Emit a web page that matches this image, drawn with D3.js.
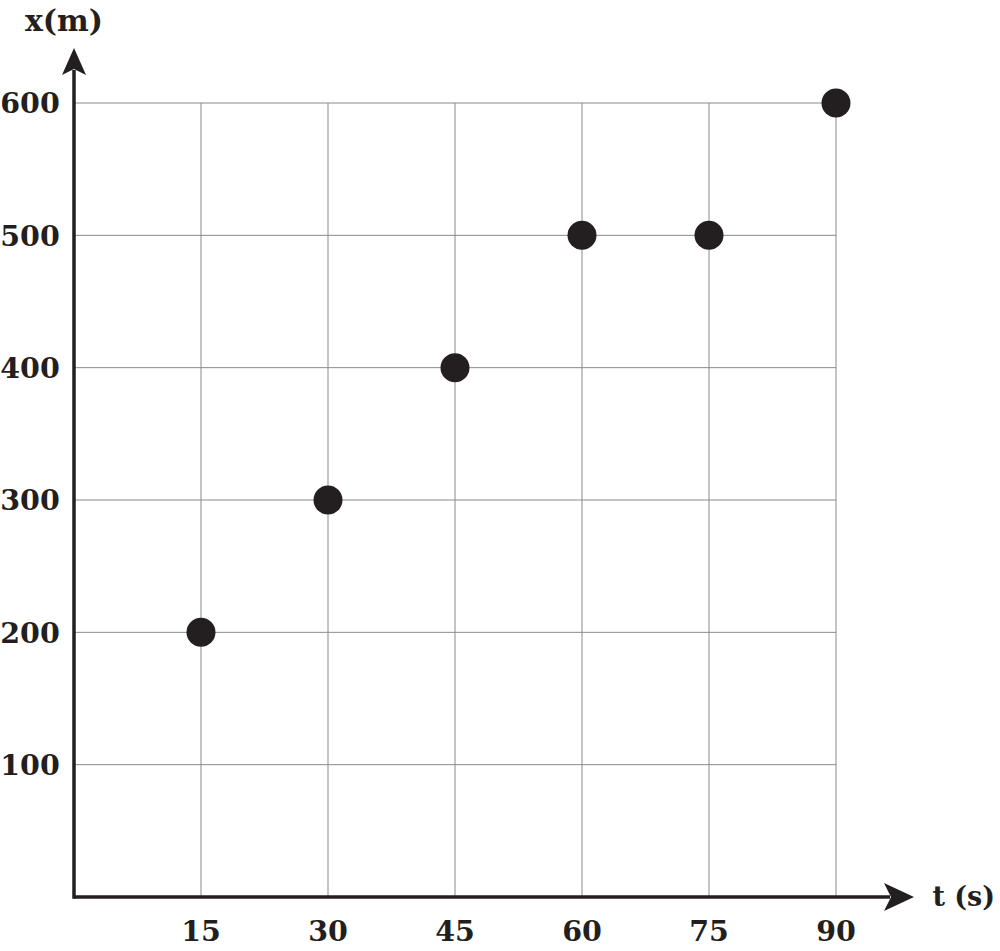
<!DOCTYPE html>
<html><head><meta charset="utf-8">
<script src="https://cdn.jsdelivr.net/npm/d3@7"></script>
<style>body{margin:0;background:#fff}svg{display:block}</style>
</head><body>
<script>
const times = [15, 30, 45, 60, 75, 90];
const positions = [200, 300, 400, 500, 500, 600];
const xTicks = [15, 30, 45, 60, 75, 90];
const yTicks = [100, 200, 300, 400, 500, 600];

const W = 1000, H = 951;
const svg = d3.select("body").append("svg").attr("width", W).attr("height", H);
const x = d3.scaleLinear().domain([0, 90]).range([74, 836]);
const y = d3.scaleLinear().domain([0, 600]).range([897, 103]);
const font = "'DejaVu Serif', serif";
const ink = "#231f20";

// grid
svg.append("g").selectAll("line").data(yTicks).join("line")
  .attr("x1", x(0)).attr("x2", x(90)).attr("y1", d => y(d)).attr("y2", d => y(d))
  .attr("stroke", "#8a8a8a").attr("stroke-width", 1);
svg.append("g").selectAll("line").data(xTicks).join("line")
  .attr("x1", d => x(d)).attr("x2", d => x(d)).attr("y1", y(0)).attr("y2", y(600))
  .attr("stroke", "#8a8a8a").attr("stroke-width", 1);

// axes
svg.append("line").attr("x1", x(0)).attr("x2", 890).attr("y1", y(0)).attr("y2", y(0))
  .attr("stroke", ink).attr("stroke-width", 3.5);
svg.append("line").attr("x1", x(0)).attr("x2", x(0)).attr("y1", y(0)+1.75).attr("y2", 70)
  .attr("stroke", ink).attr("stroke-width", 3.5);
// arrowheads
const ax = x(0), ay = y(0);
svg.append("path").attr("d", `M${ax},48 L${ax+12},75 L${ax},69 L${ax-12},75 Z`).attr("fill", ink);
svg.append("path").attr("d", `M914,${ay} L884,${ay-14} L891,${ay} L884,${ay+14} Z`).attr("fill", ink);

// tick labels
svg.append("g").selectAll("text").data(yTicks).join("text")
  .attr("x", 30).attr("y", d => y(d)).attr("dy", "0.36em").attr("text-anchor", "middle")
  .attr("font-family", font).attr("font-weight", "bold").attr("font-size", 28.5).attr("fill", ink)
  .text(d => d);
svg.append("g").selectAll("text").data(xTicks).join("text")
  .attr("x", d => x(d)).attr("y", 941).attr("text-anchor", "middle")
  .attr("font-family", font).attr("font-weight", "bold").attr("font-size", 28.5).attr("fill", ink)
  .text(d => d);

// axis titles
svg.append("text").attr("x", 64).attr("y", 31).attr("text-anchor", "middle")
  .attr("font-family", font).attr("font-weight", "bold").attr("font-size", 30).attr("fill", ink).text("x(m)");
svg.append("text").attr("x", 995).attr("y", 906).attr("text-anchor", "end")
  .attr("font-family", font).attr("font-weight", "bold").attr("font-size", 27).attr("fill", ink).text("t (s)");

// points
svg.append("g").selectAll("circle").data(times).join("circle")
  .attr("cx", d => x(d)).attr("cy", (d, i) => y(positions[i])).attr("r", 14.5)
  .attr("fill", ink);
</script>
</body></html>
